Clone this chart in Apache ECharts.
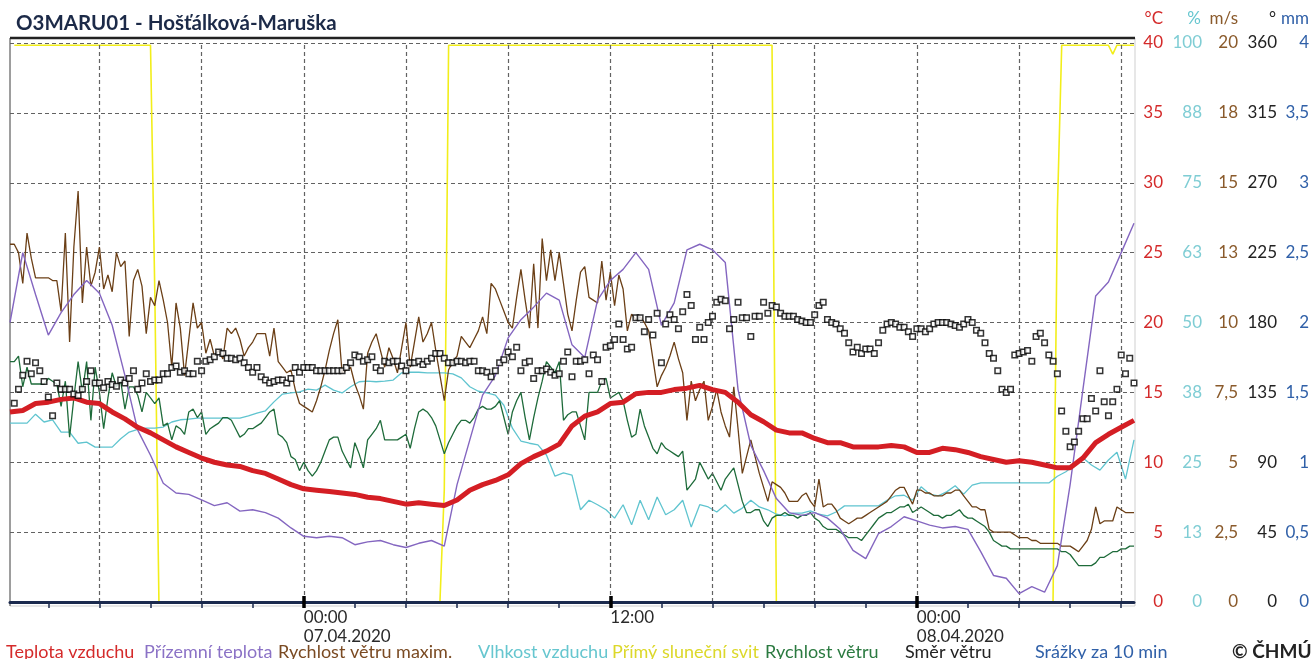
<!DOCTYPE html>
<html><head><meta charset="utf-8">
<script src="https://cdn.jsdelivr.net/npm/echarts@6/dist/echarts.min.js"></script>
<style>html,body{margin:0;padding:0;background:#fff}#c{width:1314px;height:659px}</style>
</head><body><div id="c"></div>
<script>
// hours relative to 07.04.2020 00:00; all series start 06.04.2020 12:30
const START_H = -11.5;
const END_H = 32.5;

// Teplota vzduchu (°C), 30 min
const airTemp = [13.6,13.7,14.2,14.3,14.5,14.6,14.3,14.2,13.6,13.1,12.5,12.1,11.6,11.1,10.7,10.3,10.0,9.8,9.7,9.4,9.2,8.8,8.4,8.1,8.0,7.9,7.8,7.7,7.5,7.4,7.2,7.0,7.1,7.0,6.9,7.3,8.0,8.4,8.7,9.1,9.9,10.4,10.8,11.3,12.6,13.3,13.6,14.2,14.3,14.9,15.0,15.0,15.2,15.3,15.5,15.2,15.0,14.3,13.4,12.9,12.3,12.1,12.1,11.7,11.4,11.4,11.1,11.1,11.1,11.2,11.1,10.7,10.7,11.0,10.9,10.7,10.4,10.2,10.0,10.1,10.0,9.8,9.6,9.6,10.3,11.4,12.0,12.5,13.0];
// Přízemní teplota (°C), 30 min
const groundTemp = [20.0,25.0,22.0,19.1,20.7,22.0,23.0,22.1,19.8,16.2,12.3,10.5,8.5,7.8,7.7,7.3,6.9,7.1,6.5,6.6,6.4,6.0,5.3,4.7,4.6,4.7,4.6,4.1,4.3,4.4,4.1,3.9,4.2,4.4,4.0,8.4,11.6,14.8,16.2,18.9,20.2,21.1,22.1,21.6,18.4,17.5,21.6,23.0,23.8,25.0,23.8,19.8,21.4,25.2,25.6,25.2,24.3,15.2,11.2,9.4,7.4,6.4,6.2,6.4,6.0,5.2,3.7,3.1,4.9,5.4,6.1,5.8,5.5,5.3,5.4,5.2,3.6,1.9,1.7,0.6,1.1,0.7,2.6,8.4,15.2,21.9,22.9,25.0,27.1];
// Rychlost větru maxim. (m/s), 10 min
const gustMax = [12.8,12.8,12.5,11.4,13.2,12.3,11.6,11.6,11.6,11.6,11.5,11.5,10.4,13.2,9.3,12.7,14.7,10.7,12.7,11.3,11.8,12.7,11.2,11.7,11.1,12.5,12.0,12.2,9.5,11.5,11.9,11.3,9.6,10.9,10.6,11.5,10.8,10.0,8.4,10.7,9.8,8.1,9.4,10.7,9.8,10.0,8.9,9.4,8.8,9.0,8.7,9.8,9.6,9.8,9.4,8.8,9.1,9.3,9.6,9.6,9.6,8.8,9.8,8.6,8.4,8.2,8.3,7.6,7.1,7.0,6.9,6.8,7.2,7.7,8.3,9.0,9.6,10.1,8.2,8.3,8.4,7.8,7.4,6.9,8.9,9.3,9.6,9.0,8.4,9.1,8.7,8.2,9.1,10.0,8.4,9.3,10.2,9.3,9.6,10.0,9.0,8.1,7.2,8.3,8.6,8.8,9.5,9.3,9.1,9.4,9.7,10.2,9.6,11.4,11.2,10.8,10.4,10.0,9.8,10.9,11.9,10.8,9.8,12.1,9.8,13.0,11.5,12.6,11.5,12.5,11.4,10.3,9.7,10.8,11.8,12.0,10.9,10.8,10.7,12.2,10.8,11.8,10.6,11.7,11.2,9.7,10.3,10.1,10.2,10.0,9.7,8.7,7.7,8.1,8.4,8.8,9.3,8.7,8.2,6.5,7.9,7.2,7.6,7.9,6.5,7.0,7.6,6.8,6.3,5.9,7.7,6.2,4.6,5.2,5.8,5.2,4.6,4.1,3.6,4.3,4.2,4.1,3.9,3.6,3.6,3.6,3.8,3.9,3.6,3.4,4.4,3.4,3.5,3.5,3.3,3.0,2.9,2.8,2.9,3.0,3.0,3.1,3.2,3.3,3.4,3.5,3.6,3.8,4.0,4.1,4.1,3.8,3.5,4.0,4.0,3.9,3.9,3.8,3.8,3.8,3.9,3.9,4.0,4.0,3.8,3.6,3.4,3.4,3.3,3.3,2.6,2.5,2.5,2.5,2.5,2.5,2.4,2.3,2.3,2.3,2.2,2.2,2.1,2.1,2.1,2.1,2.1,2.0,2.0,2.0,1.9,1.8,2.0,2.2,2.6,3.4,2.8,2.9,2.9,2.9,3.4,3.3,3.2,3.2,3.2];
// Rychlost větru (m/s), 10 min
const windSpeed = [8.6,8.6,8.8,7.7,8.4,7.8,7.8,7.8,7.8,8.0,7.9,7.8,7.0,7.9,5.9,7.3,8.6,7.5,8.6,6.5,8.4,7.5,6.2,7.3,8.2,7.7,7.9,6.9,7.7,7.7,7.4,6.8,7.5,7.3,7.1,7.3,6.3,6.4,5.8,6.3,6.2,6.0,6.8,6.9,6.6,6.8,6.0,6.2,6.3,6.4,6.6,6.6,6.5,6.2,5.9,6.0,6.2,6.2,6.3,6.4,6.6,6.8,6.9,6.0,5.9,5.7,5.2,5.1,4.7,5.0,4.7,4.5,4.7,5.0,5.4,5.8,5.9,5.9,5.4,5.1,4.8,5.7,5.3,4.8,5.8,6.0,6.2,6.5,5.8,5.8,5.8,5.8,5.9,6.0,5.5,6.2,6.8,6.9,6.8,6.6,6.3,5.8,5.3,5.7,6.0,6.3,6.5,6.5,6.4,6.6,6.9,7.0,6.9,6.9,7.0,7.2,6.6,6.0,6.8,7.2,7.5,6.6,5.8,6.6,7.3,7.9,8.6,8.4,8.2,8.6,6.5,6.7,6.8,6.8,6.3,5.8,7.5,7.5,7.5,7.9,8.0,7.3,7.4,7.5,7.2,6.5,5.9,6.0,6.9,6.3,5.9,5.5,5.3,5.7,5.5,5.4,5.3,5.2,5.4,4.0,4.2,4.4,5.0,4.7,4.4,4.6,4.3,4.0,4.4,4.6,4.8,4.2,3.6,3.2,3.2,3.3,3.3,2.9,2.7,3.0,3.1,3.1,3.2,3.1,3.1,3.0,3.1,3.1,3.2,3.0,2.9,2.7,2.6,2.6,2.6,2.5,2.4,2.3,2.3,2.3,2.2,2.4,2.6,2.8,3.0,3.1,3.2,3.2,3.3,3.4,3.4,3.5,3.2,3.3,3.4,3.3,3.2,3.1,3.1,3.0,3.1,3.1,3.2,3.3,3.1,3.0,3.0,2.9,2.8,2.7,2.5,2.2,2.1,2.0,2.0,1.9,1.9,1.9,1.9,1.9,1.9,1.9,1.9,1.9,1.9,1.9,1.9,1.8,1.8,1.7,1.5,1.3,1.3,1.3,1.3,1.4,1.6,1.6,1.7,1.8,1.8,1.9,1.9,2.0,2.0];
// Vlhkost vzduchu (%), 20 min
const humidity = [32.0,32.0,32.0,33.6,32.2,32.6,30.4,30.4,28.4,28.6,27.7,27.7,27.7,29.2,30.4,30.9,31.1,31.1,31.3,32.2,32.6,32.7,32.9,32.9,32.9,32.9,32.9,32.9,33.3,33.8,34.2,35.8,37.2,37.4,37.6,38.1,37.9,38.8,37.9,37.4,38.5,39.4,39.5,39.4,39.5,39.7,41.0,41.1,41.1,41.0,41.0,41.0,40.8,40.1,38.5,37.7,37.4,37.0,35.2,31.1,28.8,28.4,28.1,26.3,22.5,23.1,22.7,16.5,18.2,17.4,16.5,15.0,17.4,13.8,18.2,14.7,18.8,15.6,16.5,18.2,13.4,17.4,17.0,16.1,17.4,15.9,16.8,18.2,17.0,16.5,15.7,15.4,15.9,15.9,16.3,15.7,15.4,16.1,17.2,17.2,17.2,17.2,17.2,18.2,19.0,19.1,18.2,20.6,19.3,19.0,19.7,20.8,19.3,20.9,21.3,21.3,21.3,21.3,21.3,21.3,21.3,21.3,21.3,22.5,23.3,24.5,25.8,24.5,23.6,25.4,26.8,22.0,29.0];
// Směr větru (°), 10 min
const windDir = [null,128,137,146,155,147,154,149,142,132,120,141,137,137,137,134,133,137,142,149,141,141,138,142,140,139,143,141,144,149,137,141,147,142,143,143,147,147,151,152,148,149,147,147,155,149,155,156,158,161,160,157,157,156,157,154,151,148,151,145,143,141,142,143,143,141,144,151,148,151,151,151,149,149,149,149,149,149,149,151,154,159,158,155,156,158,151,149,155,154,155,155,152,149,154,154,155,153,155,157,160,160,157,154,154,155,155,154,155,155,149,149,148,145,149,154,156,161,158,164,149,154,155,144,149,149,150,148,146,147,155,161,145,155,155,156,147,159,156,142,164,165,169,179,169,163,164,183,183,174,182,172,186,154,179,185,182,176,187,198,191,169,177,169,180,184,193,195,194,176,182,193,183,183,171,184,184,193,186,191,190,186,184,184,184,182,181,180,180,185,191,193,182,180,179,176,173,167,161,164,160,163,163,160,167,175,179,180,179,177,177,174,171,176,176,174,176,179,180,180,180,179,178,177,179,182,180,175,173,167,160,157,149,137,135,137,159,160,161,162,155,171,173,167,159,155,147,123,110,100,103,110,118,118,131,123,149,129,120,129,137,159,147,157,141];
// Přímý sluneční svit (% of interval), [hour, value]
const sunshine = [[-11.33,99.6],[-6.0,99.6],[-5.83,55],[-5.67,0],[5.33,0],[5.5,20],[5.67,99.6],[18.33,99.6],[18.5,0],[29.33,0],[29.5,70],[29.67,99.6],[31.5,99.6],[31.67,98],[31.83,99.6],[32.5,99.6]];

const gridHours = [-8,-4,0,4,8,12,16,20,24,28,32];
const minorTicks = [-10,-8,-6,-4,-2,2,4,6,8,10,14,16,18,20,22,26,28,30,32];
const majorTicks = [0,12,24];
const labelHours = [0,12,24];
const labelText = {0:'00:00\n07.04.2020', 12:'12:00', 24:'00:00\n08.04.2020'};

const FONT = 'Lato';
function toPts(arr, stepH){ return arr.map((v,i)=>[START_H + i*stepH, v]); }

const xBase = {type:'value', min:START_H, max:END_H, z:20, splitLine:{show:false}, axisLabel:{show:false}, axisLine:{show:false}, axisTick:{show:false}};
function tickAxis(vals, inside, width, color){
  return Object.assign({}, xBase, {axisTick:{show:true, customValues:vals, inside:inside, length:6, lineStyle:{color:color, width:width}}});
}
function yAx(min,max,interval,color,margin,fmt,split){
  return {type:'value', position:'right', min, max, interval,
    axisLine:{show:false}, axisTick:{show:false},
    splitLine: split ? {show:true, lineStyle:{color:'#626262', type:[4,3], width:1.2}} : {show:false},
    axisLabel:{color, margin, align:'right', fontSize:17, fontFamily:FONT, formatter:fmt}};
}
const comma = v => String(v).replace('.', ',');

const chart = echarts.init(document.getElementById('c'), null, {renderer:'canvas'});
const legendItems = [
  ['Teplota vzduchu', 6, '#d42a2a'],
  ['Přízemní teplota', 144, '#8b72c6'],
  ['Rychlost větru maxim.', 278, '#7a4a22'],
  ['Vlhkost vzduchu', 478, '#66c6cf'],
  ['Přímý sluneční svit', 612, '#dcd82a'],
  ['Rychlost větru', 765, '#2b7a40'],
  ['Směr větru', 905, '#222222'],
  ['Srážky za 10 min', 1035, '#3060a8']
];
const units = [['°C',1163,'#d42a2a'],['%',1201,'#66c6cf'],['m/s',1238,'#8a5a2b'],['°',1276,'#222'],['mm',1309,'#3060a8']];

const graphic = [
  {type:'rect', z:-10, shape:{x:10, y:38, width:1125, height:568}, style:{fill:'none', stroke:'#cfcfcf', lineWidth:1}},
  {type:'line', z:-9, shape:{x1:10, y1:38, x2:10, y2:606}, style:{stroke:'#555', lineWidth:1}},
  {type:'line', z:50, shape:{x1:10, y1:38, x2:1135, y2:38}, style:{stroke:'#222', lineWidth:2.5}},
  {type:'text', left:16, top:13, style:{text:'O3MARU01 - Hošťálková-Maruška', fill:'#1c2a48', font:'bold 20.5px ' + FONT}},
  {type:'text', left:1232, top:642, style:{text:'© ČHMÚ', fill:'#222', font:'bold 19px ' + FONT}}
];
legendItems.forEach(([t,x,c]) => graphic.push({type:'text', left:x, top:643, style:{text:t, fill:c, font:'18px ' + FONT}}));
units.forEach(([t,x,c]) => graphic.push({type:'text', right:1314-x, top:10, style:{text:t, fill:c, font:'17px ' + FONT}}));

chart.setOption({
  animation:false,
  backgroundColor:'#fff',
  grid:{left:10, right:180, top:43, bottom:57, containLabel:false},
  xAxis:[
    Object.assign({}, xBase, {
      axisLine:{show:true, onZero:false, lineStyle:{color:'#1b2a4e', width:3}},
      axisTick:{show:true, customValues:minorTicks, length:6, lineStyle:{color:'#1b2a4e', width:1.5}},
      axisLabel:{show:true, customValues:labelHours, formatter:v => labelText[Math.round(v)] || '', align:'left', margin:6, color:'#2a2a2a', fontSize:17, lineHeight:19, fontFamily:FONT}
    }),
    tickAxis(minorTicks, true, 1.5, '#1b2a4e'),
    tickAxis(majorTicks, false, 3.5, '#000'),
    tickAxis(majorTicks, true, 3.5, '#000')
  ],
  yAxis:[
    yAx(0,40,5,'#d42a2a',29,v=>String(v),true),
    yAx(0,100,12.5,'#7fcdd4',68,v=>String(Math.round(v)),false),
    yAx(0,20,2.5,'#8a5a2b',104,v=>(v<10?comma(v):String(Math.round(v))),false),
    yAx(0,360,45,'#222',143,v=>String(v),false),
    yAx(0,4,0.5,'#3060a8',175,v=>comma(v),false)
  ],
  graphic: graphic,
  series:[
    {name:'Přímý sluneční svit', type:'line', yAxisIndex:1, data:sunshine, symbol:'none', z:2,
      lineStyle:{color:'#f2ee1a', width:1.6},
      markLine:{silent:true, symbol:'none', label:{show:false}, lineStyle:{color:'#626262', type:[4,3], width:1.2},
        data:gridHours.map(h=>({xAxis:h}))}},
    {name:'Vlhkost vzduchu', type:'line', yAxisIndex:1, data:toPts(humidity,1/3), symbol:'none', z:3, lineStyle:{color:'#5fc4cf', width:1.3}},
    {name:'Rychlost větru', type:'line', yAxisIndex:2, data:toPts(windSpeed,1/6), symbol:'none', z:4, lineStyle:{color:'#1e6b3a', width:1.3}},
    {name:'Rychlost větru maxim.', type:'line', yAxisIndex:2, data:toPts(gustMax,1/6), symbol:'none', z:5, lineStyle:{color:'#6b3f16', width:1.3}},
    {name:'Přízemní teplota', type:'line', yAxisIndex:0, data:toPts(groundTemp,0.5), symbol:'none', z:6, lineStyle:{color:'#8466c0', width:1.4}},
    {name:'Teplota vzduchu', type:'line', yAxisIndex:0, data:toPts(airTemp,0.5), symbol:'none', z:7, lineStyle:{color:'#d41e24', width:5}},
    {name:'Směr větru', type:'scatter', yAxisIndex:3, data:toPts(windDir,1/6).filter(p=>p[1]!==null), symbol:'rect', symbolSize:5.5, z:8,
      itemStyle:{color:'#ffffff', borderColor:'#000', borderWidth:1.5}}
  ]
});
</script></body></html>
